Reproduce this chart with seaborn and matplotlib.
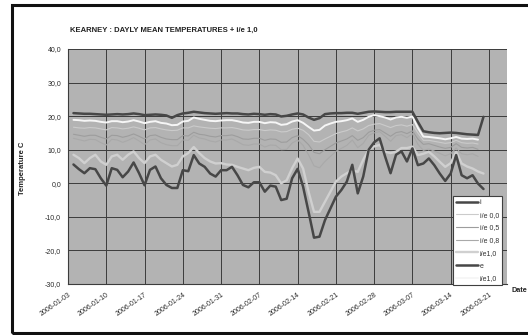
import numpy as np
import pandas as pd
import matplotlib
matplotlib.use("Agg")
import matplotlib.pyplot as plt
import matplotlib.dates as mdates
from matplotlib.patches import Rectangle
import seaborn as sns

# Daily series, 2006-01-04 .. 2006-03-20
start_day = "2006-01-04"
n_days = 76

temp_i = [20.9, 20.8, 20.7, 20.7, 20.6, 20.5, 20.4, 20.5, 20.6, 20.5,
          20.6, 20.8, 20.6, 20.3, 20.4, 20.5, 20.4, 20.2, 19.5, 20.3,
          20.8, 21.0, 21.3, 21.1, 20.9, 20.8, 20.7, 20.8, 20.9, 20.8,
          20.8, 20.6, 20.5, 20.7, 20.6, 20.4, 20.6, 20.5, 19.9, 20.1,
          20.5, 20.8, 20.5, 19.6, 18.9, 19.4, 20.6, 20.8, 20.9, 20.9,
          21.0, 21.0, 20.7, 21.0, 21.3, 21.4, 21.3, 21.2, 21.2, 21.3,
          21.3, 21.3, 21.3, 18.3, 15.5, 15.2, 15.0, 14.9, 15.0, 15.1,
          15.0, 14.8, 14.6, 14.5, 14.4, 19.8]

temp_ie00 = [16.7, 16.5, 16.4, 16.6, 16.5, 16.2, 15.9, 16.6, 16.5, 16.2,
             16.4, 16.8, 16.4, 15.9, 16.5, 16.6, 16.2, 15.9, 15.7, 15.8,
             16.5, 16.5, 17.1, 16.8, 16.6, 16.4, 16.3, 16.5, 16.5, 16.6,
             16.3, 15.9, 15.8, 16.0, 16.0, 15.7, 15.9, 15.8, 15.3, 15.4,
             16.1, 16.4, 15.8, 14.5, 12.5, 12.3, 13.2, 14.0, 14.8, 15.3,
             15.7, 16.5, 15.6, 16.2, 17.2, 17.6, 17.8, 17.2, 16.6, 17.2,
             17.4, 17.0, 17.5, 15.0, 12.8, 12.8, 12.5, 12.2, 11.9, 12.1,
             12.8, 12.1, 11.9, 12.0, 11.7, np.nan]

temp_ie05 = [14.6, 14.3, 14.0, 14.3, 14.3, 13.7, 13.2, 14.3, 14.2, 13.7,
             14.1, 14.7, 14.0, 13.2, 14.2, 14.4, 13.7, 13.2, 13.0, 13.0,
             14.2, 14.1, 15.2, 14.6, 14.4, 14.0, 13.8, 14.2, 14.2, 14.4,
             13.9, 13.2, 13.1, 13.4, 13.4, 12.8, 13.2, 13.1, 12.2, 12.3,
             13.6, 14.2, 13.1, 11.5, 9.2, 8.8, 10.0, 11.0, 12.0, 12.6,
             13.2, 14.2, 12.8, 13.6, 15.2, 15.8, 16.0, 15.0, 14.0, 15.1,
             15.4, 14.8, 15.6, 13.2, 11.6, 11.8, 11.3, 10.8, 10.4, 10.7,
             11.8, 10.7, 10.5, 10.7, 10.1, np.nan]

temp_ie08 = [13.4, 13.0, 12.6, 13.1, 13.0, 12.1, 11.4, 13.1, 12.9, 12.2,
             12.8, 13.6, 12.6, 11.5, 12.9, 13.2, 12.1, 11.5, 11.2, 11.2,
             12.9, 12.8, 14.3, 13.5, 13.2, 12.6, 12.3, 12.9, 12.9, 13.2,
             12.4, 11.5, 11.3, 11.7, 11.7, 10.8, 11.4, 11.3, 10.0, 10.1,
             12.0, 12.9, 11.3, 8.5, 5.2, 4.6, 6.5, 8.0, 9.5, 10.4,
             11.3, 12.9, 10.6, 11.9, 14.3, 15.0, 15.4, 14.0, 12.5, 14.2,
             14.5, 13.6, 14.8, 11.6, 9.8, 10.2, 9.6, 8.9, 8.2, 8.8,
             10.5, 8.8, 8.5, 8.8, 8.0, np.nan]

temp_ie10_low = [8.5, 7.5, 6.0, 7.5, 8.5, 6.5, 5.5, 8.0, 8.5, 7.0,
                 8.5, 9.5, 7.5, 6.0, 8.0, 8.5, 7.0, 6.0, 5.0, 5.5,
                 8.0, 9.0, 10.8, 9.0, 7.5, 6.5, 5.9, 6.0, 5.6, 5.5,
                 4.9, 4.4, 3.9, 4.6, 4.9, 3.4, 3.2, 2.4, 0.0, 0.9,
                 4.5, 7.4, 4.4, -2.5, -8.5, -8.5, -5.5, -2.5, 0.5, 2.0,
                 3.0, 3.9, 3.4, 7.0, 10.0, 11.0, 11.4, 9.4, 9.0, 9.4,
                 10.5, 10.5, 10.9, 8.4, 8.8, 9.4, 8.0, 6.4, 4.9, 6.0,
                 9.4, 5.9, 5.0, 4.4, 3.5, 2.9]

temp_e = [5.6, 4.2, 3.0, 4.5, 4.2, 1.5, -0.7, 4.5, 4.0, 1.8,
          3.5, 6.2, 3.0, -0.6, 4.0, 5.0, 1.5, -0.5, -1.4, -1.4,
          3.9, 3.6, 8.4, 5.9, 4.9, 2.9, 2.0, 3.9, 3.9, 4.9,
          2.4, -0.5, -1.2, 0.3, 0.3, -2.5, -0.7, -1.0, -5.0, -4.6,
          1.5, 4.3, -1.0, -8.5, -16.2, -15.9, -11.0, -7.5, -4.0, -2.0,
          0.5, 5.5, -3.0, 2.0, 10.0, 12.2, 13.4, 8.0, 3.0, 8.5,
          9.5, 6.5, 10.4, 5.4, 5.9, 7.4, 5.4, 2.9, 0.7, 2.9,
          8.4, 2.4, 1.5, 2.4, -0.1, -1.7]

temp_ie10_high = [18.9, 18.8, 18.6, 18.7, 18.6, 18.3, 18.1, 18.5, 18.5, 18.2,
                  18.4, 18.8, 18.4, 17.9, 18.3, 18.5, 18.0, 17.8, 17.3, 17.4,
                  18.4, 18.6, 19.6, 19.2, 18.9, 18.6, 18.5, 18.7, 18.8, 18.8,
                  18.5, 18.1, 18.0, 18.3, 18.3, 17.9, 18.2, 18.1, 17.4, 17.6,
                  18.4, 18.8, 18.0, 16.8, 15.7, 15.9, 17.2, 17.8, 18.3, 18.5,
                  18.8, 19.3, 18.3, 18.9, 19.8, 20.3, 20.0, 19.6, 19.0, 19.6,
                  19.8, 19.5, 19.9, 16.5, 13.9, 13.8, 13.6, 13.4, 13.1, 13.4,
                  13.8, 13.3, 13.2, 13.3, 13.0, np.nan]

series_labels = ["i", "i/e 0,0", "i/e 0,5", "i/e 0,8", "i/e1,0", "e", "i/e1,0"]
series_values = [temp_i, temp_ie00, temp_ie05, temp_ie08, temp_ie10_low,
                 temp_e, temp_ie10_high]

xtick_labels = ["2006-01-03", "2006-01-10", "2006-01-17", "2006-01-24",
                "2006-01-31", "2006-02-07", "2006-02-14", "2006-02-21",
                "2006-02-28", "2006-03-07", "2006-03-14", "2006-03-21"]
ytick_values = [-30, -20, -10, 0, 10, 20, 30, 40]

title = "KEARNEY : DAYLY MEAN TEMPERATURES + i/e 1,0"

dates = pd.date_range(start_day, periods=n_days, freq="D")

# line styles per series (colour, width, z-order)
styles = [
    ("#474747", 1.8, 6),
    ("#cbcbcb", 0.8, 3),
    ("#9d9d9d", 0.8, 3),
    ("#a9a9a9", 0.8, 3),
    ("#d0d0d0", 1.7, 3),
    ("#474747", 1.8, 5),
    ("#f6f6f6", 1.4, 4),
]

sns.set_theme(style="white")
plt.rcParams["font.family"] = ["Liberation Sans", "DejaVu Sans"]

W, H = 528, 335
fig = plt.figure(figsize=(W / 100, H / 100), dpi=100)
fig.patch.set_facecolor("white")

ax = fig.add_axes([68 / W, 1 - 284 / H, (507 - 68) / W, (284 - 49) / H])
ax.set_facecolor("#b3b3b3")

for label, vals, (col, lw, z) in zip(series_labels, series_values, styles):
    frame = pd.DataFrame({"date": dates, "value": vals})
    sns.lineplot(data=frame, x="date", y="value", ax=ax, color=col,
                 linewidth=lw, zorder=z, label=label)

x0 = pd.Timestamp(xtick_labels[0])
ax.set_xlim(x0, x0 + pd.Timedelta(days=80.3))
ax.set_ylim(min(ytick_values), max(ytick_values))

ax.set_xticks(pd.to_datetime(xtick_labels))
ax.xaxis.set_major_formatter(mdates.DateFormatter("%Y-%m-%d"))
ax.set_yticks(ytick_values)
ax.set_yticklabels([f"{v:.1f}".replace(".", ",") for v in ytick_values])

ax.grid(True, color="#3c3c3c", linewidth=0.7)
ax.set_axisbelow(True)
for side in ("top", "right"):
    ax.spines[side].set_visible(False)
for side in ("left", "bottom"):
    ax.spines[side].set_color("#3c3c3c")
    ax.spines[side].set_linewidth(0.8)

ax.tick_params(axis="both", which="major", direction="out", length=3,
               width=0.6, color="#3c3c3c", labelsize=5, labelcolor="#2a2a2a")
ax.tick_params(axis="y", pad=2)
ax.tick_params(axis="x", pad=2)
for t in ax.get_xticklabels():
    t.set_rotation(35)
    t.set_ha("right")
    t.set_va("top")
    t.set_rotation_mode("anchor")

ax.set_xlabel("")
ax.set_ylabel("")

leg = ax.legend(loc="upper left", bbox_to_anchor=(453 / W, 1 - 196 / H),
                bbox_transform=fig.transFigure, fontsize=5, frameon=True,
                fancybox=False, framealpha=1, facecolor="white",
                edgecolor="#404040", handlelength=3.2, handletextpad=0.2,
                labelspacing=0.82, borderpad=0.45, borderaxespad=0)
leg.get_frame().set_linewidth(0.8)
leg.set_zorder(10)
for txt in leg.get_texts():
    txt.set_color("#333333")

fig.text(70 / W, 1 - 30 / H, title, fontsize=5.5, fontweight="bold",
         ha="left", va="center", color="#222222")
fig.text(22 / W, 1 - 168 / H, "Temperature C", fontsize=5.5,
         fontweight="bold", rotation=90, ha="center", va="center",
         color="#222222")
fig.text(512 / W, 1 - 290 / H, "Date", fontsize=5.2, fontweight="bold",
         ha="left", va="center", color="#222222")

# outer chart frame
fig.patches.append(Rectangle((11.5 / W, 1 - 333 / H), 1.0, (333 - 5) / H,
                             transform=fig.transFigure, fill=False,
                             edgecolor="#111111", linewidth=2.2,
                             clip_on=False))

fig.savefig("out.png", dpi=100, facecolor="white")
